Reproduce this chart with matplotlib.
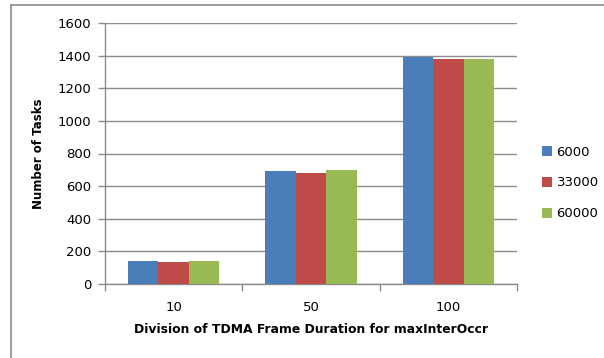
import matplotlib
matplotlib.use("Agg")
import matplotlib.pyplot as plt
import numpy as np
from matplotlib.lines import Line2D

categories = ["10", "50", "100"]
series_names = ["6000", "33000", "60000"]
values_6000 = [142, 690, 1390]
values_33000 = [133, 683, 1381]
values_60000 = [141, 697, 1381]
colors = ["#4a7ebb", "#be4b48", "#98b954"]

plt.rcParams['font.family'] = ['DejaVu Sans']
fig = plt.figure(figsize=(6.04, 3.58), dpi=100)
W, H = 604, 358
ax = fig.add_axes([105 / W, 1 - 284 / H, (517 - 105) / W, (284 - 23) / H])

x = np.arange(len(categories))
bw = 0.222
for i, (name, vals) in enumerate(zip(series_names, [values_6000, values_33000, values_60000])):
    ax.bar(x + (i - 1) * bw, vals, width=bw, color=colors[i], label=name, zorder=3, linewidth=0)

ax.set_xlim(-0.5, 2.5)
ax.set_ylim(0, 1600)
ax.set_yticks(np.arange(0, 1601, 200))
ax.yaxis.grid(True, color="#8c8c8c", linewidth=1.0, zorder=0)
ax.set_xticks(x)
ax.set_xticklabels(categories)
ax.set_xticks([-0.5, 0.5, 1.5, 2.5], minor=True)
ax.tick_params(axis='x', which='major', length=0, pad=12, labelsize=9.5)
ax.tick_params(axis='x', which='minor', length=5, color="#8c8c8c", width=1)
ax.tick_params(axis='y', length=5, color="#8c8c8c", width=1, pad=5, labelsize=9.5)
for s in ['top', 'right']:
    ax.spines[s].set_visible(False)
for s in ['left', 'bottom']:
    ax.spines[s].set_color("#8c8c8c")
    ax.spines[s].set_linewidth(1.0)

ax.set_xlabel("Division of TDMA Frame Duration for maxInterOccr", fontsize=8.9, fontweight='bold', labelpad=7)
ax.set_ylabel("Number of Tasks", fontsize=8.5, fontweight='bold', labelpad=9)

leg = ax.legend(loc='center left', bbox_to_anchor=(1.048, 0.387), frameon=False, fontsize=9.5,
                handlelength=0.75, handleheight=0.75, handletextpad=0.35, labelspacing=1.35,
                borderaxespad=0)

# outer chart frame (top and left)
fig.add_artist(Line2D([11 / W, 11 / W], [0, 1 - 5 / H], transform=fig.transFigure, color="#8c8c8c", linewidth=1.2))
fig.add_artist(Line2D([11 / W, 1], [1 - 5 / H, 1 - 5 / H], transform=fig.transFigure, color="#8c8c8c", linewidth=1.2))

fig.savefig("out.png", dpi=100)
